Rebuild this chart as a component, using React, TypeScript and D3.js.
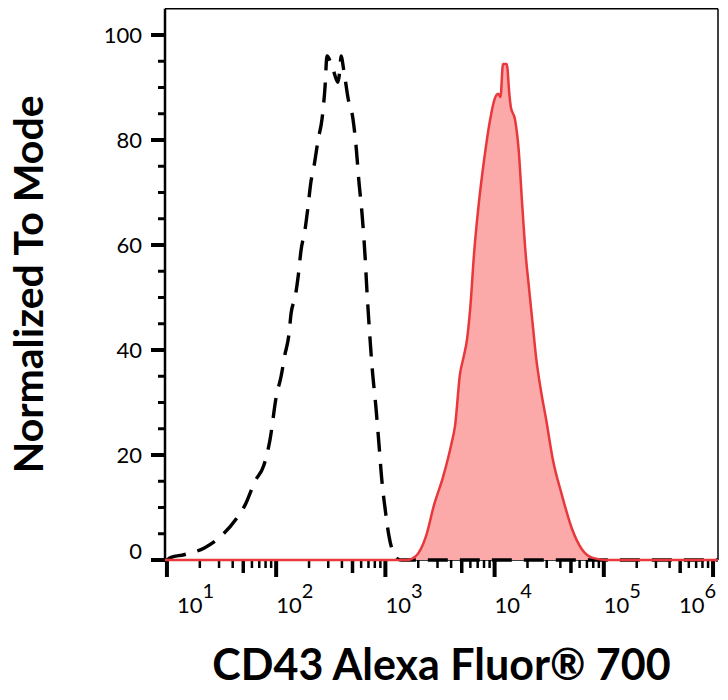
import * as d3 from "d3";

// isotype control (dashed) – intensity vs % of mode
const ctrlX = [10, 10.9, 14.3, 22, 30, 43, 52, 64, 77, 88, 100, 111, 120, 131, 137, 149, 159, 169, 184, 195, 208, 222, 242, 263, 280, 292, 331, 368, 385, 392, 418, 455, 505, 538, 573, 611, 651, 679, 708, 754, 820, 874, 930, 991, 1080, 1175, 1300, 1420, 1.11e6];
const ctrlY = [0, 0.5, 1, 2.3, 4.2, 7.8, 10.5, 15, 18, 23, 31, 35, 39, 43, 47, 50, 54, 59, 63, 67, 72, 75, 80, 84, 90, 96, 93.5, 91, 94, 96, 93, 88, 84, 79, 72, 66, 58, 51, 45, 37, 29, 22, 15, 10, 4.5, 1.5, 0.2, 0, 0];

// CD43 Alexa Fluor 700 stained (red, filled)
const cd43X = [9.6, 1500, 1580, 1890, 2360, 2790, 3370, 4040, 4340, 4820, 5210, 5590, 6010, 6480, 7190, 7990, 8980, 10000, 10740, 11320, 11940, 12910, 13670, 14070, 15380, 16630, 17830, 19240, 20660, 22250, 23950, 26600, 29560, 34250, 41170, 51180, 63140, 79110, 104800, 1.11e6];
const cd43Y = [0, 0, 0, 0.7, 4.6, 10.5, 15.8, 22.3, 25.5, 35.4, 38.7, 42, 48.5, 58.3, 68.2, 76, 83.2, 87.8, 88.8, 88.2, 94.5, 94.5, 88.6, 86.3, 83.9, 78, 68.2, 58.3, 51.8, 45.2, 38.7, 32.2, 26.9, 19, 12.5, 5.9, 2, 0.4, 0, 0];

const yMajor = [0, 20, 40, 60, 80, 100];
const yMinor = [5, 10, 15, 25, 30, 35, 45, 50, 55, 65, 70, 75, 85, 90, 95];
const xDecades = [1, 2, 3, 4, 5, 6];
const xMults = [2, 3, 4, 5, 6, 7, 8, 9];

const font = "Lato, 'DejaVu Sans', sans-serif";

export default function App() {
  const x = d3.scaleLog().domain([9.6, 1.11e6]).range([165, 718]);
  const y = d3.scaleLinear().domain([0, 105]).range([560, 8.75]);

  const ctrl = ctrlX.map((v, i) => [v, ctrlY[i]] as [number, number]);
  const cd43 = cd43X.map((v, i) => [v, cd43Y[i]] as [number, number]);

  const line = d3.line<[number, number]>()
    .x(d => x(d[0]))
    .y(d => y(d[1]))
    .curve(d3.curveMonotoneX);
  const area = d3.area<[number, number]>()
    .x(d => x(d[0]))
    .y0(y(0))
    .y1(d => y(d[1]))
    .curve(d3.curveMonotoneX);

  const [x0, x1] = x.range();
  const [y0, y1] = y.range();

  const minorTicks: number[] = [];
  xDecades.slice(0, -1).forEach(d => xMults.forEach(m => minorTicks.push(m * Math.pow(10, d))));

  return (
    <div style={{ position: "absolute", left: 0, top: 0 }}>
      <svg width={728} height={700} style={{ display: "block", background: "#fff" }}>
        {/* frame */}
        <line x1={x0} x2={x1} y1={y1} y2={y1} stroke="#000" strokeWidth={1.5} />
        <line x1={x1} x2={x1} y1={y1} y2={y0} stroke="#000" strokeWidth={1.5} />
        <line x1={x0} x2={x1} y1={y0} y2={y0} stroke="#000" strokeWidth={1.5} />
        <line x1={x0} x2={x0} y1={y1} y2={y0 + 2} stroke="#000" strokeWidth={2.5} />

        {/* y ticks */}
        {yMinor.map(v => (
          <line key={"ym" + v} x1={x0 - 7} x2={x0} y1={y(v)} y2={y(v)} stroke="#000" strokeWidth={3} />
        ))}
        {yMajor.map(v => (
          <g key={"yM" + v}>
            <line x1={x0 - 14} x2={x0} y1={y(v)} y2={y(v)} stroke="#000" strokeWidth={4} />
            <text x={x0 - 23} y={y(v) - (v === 0 ? 9 : 0)} dy="0.35em" textAnchor="end"
              fontFamily={font} fontSize={22} fill="#000">{v}</text>
          </g>
        ))}

        {/* x ticks */}
        {minorTicks.map(v => {
          const m = Math.round(v / Math.pow(10, Math.floor(Math.log10(v) + 1e-9)));
          return (
            <line key={"xm" + v} x1={x(v)} x2={x(v)} y1={y0} y2={y0 + (m === 5 ? 13 : 8)}
              stroke="#000" strokeWidth={m === 5 ? 3.5 : 2.5} />
          );
        })}
        {xDecades.map(d => {
          const tx = x(Math.pow(10, d));
          const lx = Math.min(Math.max(tx, x0 + 12), x1 - 39);
          return (
            <g key={"xM" + d}>
              <line x1={tx} x2={tx} y1={y0} y2={y0 + 17} stroke="#000" strokeWidth={4} />
              <text x={lx} y={613} fontFamily={font} fontSize={22} fill="#000">
                10
                <tspan dy={-15} fontSize={20}>{d}</tspan>
              </text>
            </g>
          );
        })}

        {/* histograms */}
        <path d={area(cd43) ?? ""} fill="#fba9a9" stroke="none" />
        <path d={line(ctrl) ?? ""} fill="none" stroke="#000" strokeWidth={3.4} strokeDasharray="20,12" />
        <path d={line(cd43) ?? ""} fill="none" stroke="#e8383b" strokeWidth={2.5} />

        {/* titles */}
        <text transform={`translate(43,${(y0 + y1) / 2}) rotate(-90)`} textAnchor="middle"
          fontFamily={font} fontWeight="bold" fontSize={41} fill="#000">Normalized To Mode</text>
        <text x={(x0 + x1) / 2} y={680} textAnchor="middle"
          fontFamily={font} fontWeight="bold" fontSize={43} fill="#000">CD43 Alexa Fluor® 700</text>
      </svg>
    </div>
  );
}
